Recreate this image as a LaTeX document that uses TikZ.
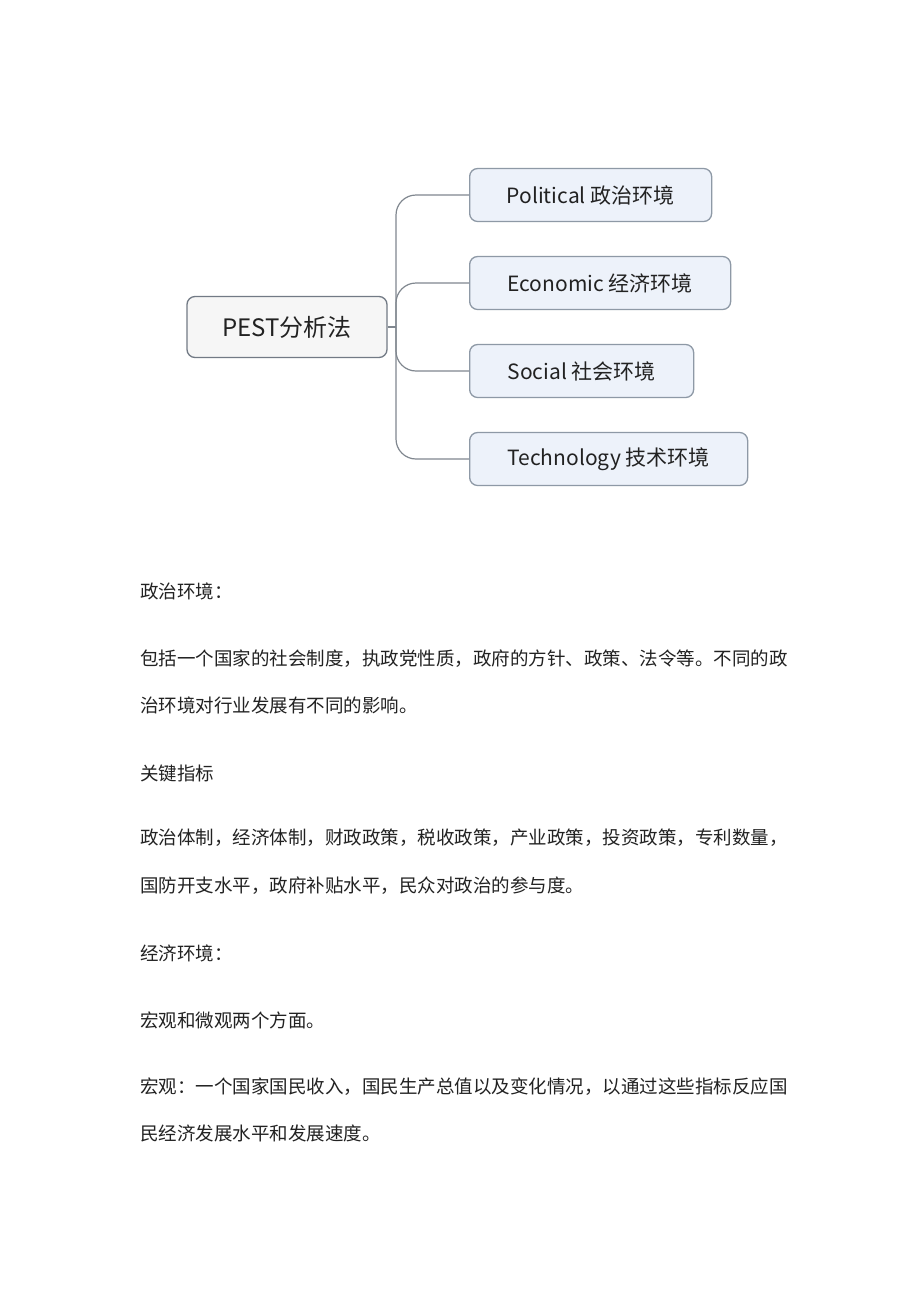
\documentclass[tikz,border=0pt]{standalone}
\usepackage{fontspec}
\usepackage{xcolor}
\usetikzlibrary{positioning,calc}
\newfontfamily\cjk{Noto Sans CJK SC}
\definecolor{boxline}{HTML}{8E99A6}
\definecolor{boxfill}{HTML}{EDF2FA}
\definecolor{rootfill}{HTML}{F6F6F6}
\definecolor{linkgray}{HTML}{80878F}
\definecolor{inktext}{HTML}{222222}
\tikzstyle{rootbox}=[draw=boxline!80!black,fill=rootfill,rounded corners=8pt,line width=1.3pt,minimum width=200pt,minimum height=61pt,font=\cjk\fontsize{24}{28}\selectfont,text=inktext]
\tikzstyle{envbox}=[draw=boxline,fill=boxfill,rounded corners=8pt,line width=1.3pt,minimum height=53pt,anchor=west,font=\cjk\fontsize{21}{25}\selectfont,text=inktext]
\tikzstyle{link}=[draw=linkgray,line width=1.2pt]
\tikzstyle{para}=[anchor=west,inner sep=0pt,font=\cjk\fontsize{18.5}{22}\selectfont,text=inktext]

\begin{document}
\begin{tikzpicture}[x=1pt,y=-1pt]
\useasboundingbox[fill=white] (0,0) rectangle (920,1302);
% mind map
\node [rootbox] (pest) at (287,327) {PEST分析法};
\coordinate (trunk) at (396,327);
\node [envbox,minimum width=242pt] (pol) at (469,195) {Political 政治环境};
\node [envbox,minimum width=261pt] (eco) at (469,283) {Economic 经济环境};
\node [envbox,minimum width=224pt] (soc) at (469,371) {Social 社会环境};
\node [envbox,minimum width=278pt] (tec) at (469,459) {Technology 技术环境};
\draw [link] (pest.east) -- (trunk);
\foreach \k in {pol,eco,soc,tec}
  \draw [link,rounded corners=20pt] (trunk) |- (\k.west);
% text
\node [para] (t1) at (140,591) {政治环境：};
\node [para] (t2) at (140,659) {包括一个国家的社会制度，执政党性质，政府的方针、政策、法令等。不同的政};
\node [para] (t3) at (140,705) {治环境对行业发展有不同的影响。};
\node [para] (t4) at (140,773) {关键指标};
\node [para] (t5) at (140,838) {政治体制，经济体制，财政政策，税收政策，产业政策，投资政策，专利数量，};
\node [para] (t6) at (140,886) {国防开支水平，政府补贴水平，民众对政治的参与度。};
\node [para] (t7) at (140,953) {经济环境：};
\node [para] (t8) at (140,1020) {宏观和微观两个方面。};
\node [para] (t9) at (140,1087) {宏观：一个国家国民收入，国民生产总值以及变化情况，以通过这些指标反应国};
\node [para] (t10) at (140,1133) {民经济发展水平和发展速度。};
\end{tikzpicture}
\end{document}
